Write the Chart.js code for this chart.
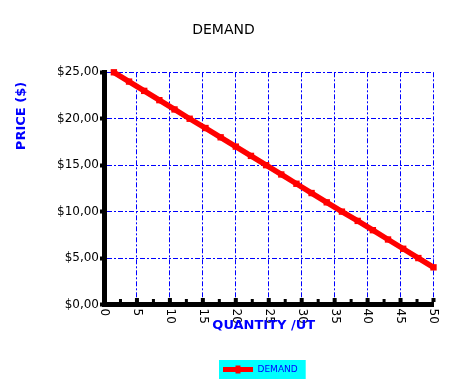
<!DOCTYPE html>
<html>
<head>
<meta charset="utf-8">
<script src="https://cdn.jsdelivr.net/npm/chart.js@4/dist/chart.umd.min.js"></script>
<style>
  html, body { margin: 0; padding: 0; background: #ffffff; }
  #wrap { width: 451px; height: 391px; }
</style>
</head>
<body>
<div id="wrap"><canvas id="c" width="451" height="391"></canvas></div>
<script>
// ---- data ----
const chartTitle = 'DEMAND';
const seriesLabel = 'DEMAND';
const xAxisTitle = 'QUANTITY /UT';
const yAxisTitle = 'PRICE ($)';
const quantity = [1.5, 3.8, 6.1, 8.4, 10.7, 13.0, 15.4, 17.7, 20.0, 22.3, 24.6, 26.9, 29.2, 31.5, 33.8, 36.1, 38.5, 40.8, 43.1, 45.4, 47.7, 50.0];
const price    = [25, 24, 23, 22, 21, 20, 19, 18, 17, 16, 15, 14, 13, 12, 11, 10, 9, 8, 7, 6, 5, 4];
const xTickValues = [0, 5, 10, 15, 20, 25, 30, 35, 40, 45, 50];
const xTickLabels = ['0', '5', '10', '15', '20', '25', '30', '35', '40', '45', '50'];
const xMinorTicks = [2.5, 7.5, 12.5, 17.5, 22.5, 27.5, 32.5, 37.5, 42.5, 47.5];
const yTickValues = [0, 5, 10, 15, 20, 25];
const yTickLabels = ['$0,00', '$5,00', '$10,00', '$15,00', '$20,00', '$25,00'];

// ---- styling ----
const FONT = "'DejaVu Sans', sans-serif";
const RED = '#ff0000';
const BLUE = '#0000ff';
const CYAN = '#00ffff';
const AXIS_W = 5;

const decor = {
  id: 'decor',
  afterUpdate(chart) {
    const tb = chart.titleBlock;
    if (tb) {
      const tdx = 223.5 - (tb.left + tb.right) / 2;
      tb.left += tdx; tb.right += tdx;
    }
    const lg = chart.legend;
    if (!lg || !lg.legendHitBoxes || !lg.legendHitBoxes.length) return;
    const hb = lg.legendHitBoxes[0];
    const dx = 223 - hb.left;
    const dy = 369.5 - (hb.top + hb.height / 2);
    lg.left += dx; lg.right += dx; lg.top += dy; lg.bottom += dy;
    lg.legendHitBoxes.forEach(h => { h.left += dx; h.top += dy; });
  },
  beforeDraw(chart) {
    const ctx = chart.ctx;
    const lg = chart.legend;
    if (!lg || !lg.legendHitBoxes.length) return;
    const hb = lg.legendHitBoxes[0];
    const cy = hb.top + hb.height / 2;
    ctx.save();
    ctx.fillStyle = CYAN;
    const l = hb.left - 4, r = hb.left + hb.width + 8;
    ctx.fillRect(l, cy - 9.5, r - l, 19);
    ctx.restore();
  },
  afterDraw(chart) {
    const ctx = chart.ctx;
    const xs = chart.scales.x, ys = chart.scales.y;
    const area = chart.chartArea;
    const y0 = ys.getPixelForValue(0);
    ctx.save();
    // tick squares above the x axis line
    ctx.fillStyle = '#000';
    xTickValues.forEach(v => {
      const px = xs.getPixelForValue(v);
      ctx.fillRect(px - 2, y0 - AXIS_W / 2 - 4, 4, 4);
    });
    xMinorTicks.forEach(v => {
      const px = xs.getPixelForValue(v);
      ctx.fillRect(px - 1.5, y0 - AXIS_W / 2 - 3, 3, 3);
    });
    // x tick labels, rotated clockwise
    ctx.font = '12px ' + FONT;
    ctx.fillStyle = '#000';
    ctx.textAlign = 'left';
    ctx.textBaseline = 'middle';
    xTickValues.forEach((v, i) => {
      const px = xs.getPixelForValue(v);
      ctx.save();
      ctx.translate(px, y0 + 4);
      ctx.rotate(Math.PI / 2);
      ctx.fillText(xTickLabels[i], 0, 0);
      ctx.restore();
    });
    // axis titles
    ctx.font = 'bold 13px ' + FONT;
    ctx.fillStyle = BLUE;
    ctx.textAlign = 'center';
    ctx.textBaseline = 'middle';
    ctx.fillText(xAxisTitle, (area.left + area.right) / 2 - 5, 326);
    ctx.save();
    ctx.translate(21.5, 116);
    ctx.rotate(-Math.PI / 2);
    ctx.fillText(yAxisTitle, 0, 0);
    ctx.restore();
    // legend marker
    const lg = chart.legend;
    if (lg && lg.legendHitBoxes.length) {
      const hb = lg.legendHitBoxes[0];
      const cy = hb.top + hb.height / 2;
      ctx.fillStyle = RED;
      ctx.fillRect(hb.left + 15 - 2.5, cy - 4, 5, 8);
    }
    ctx.restore();
  }
};

const defaultGen = Chart.defaults.plugins.legend.labels.generateLabels;

new Chart(document.getElementById('c'), {
  type: 'line',
  data: {
    datasets: [{
      label: seriesLabel,
      data: quantity.map((q, i) => ({ x: q, y: price[i] })),
      borderColor: RED,
      backgroundColor: RED,
      borderWidth: 5.5,
      pointStyle: 'rect',
      pointRadius: 4.5,
      pointBackgroundColor: RED,
      pointBorderColor: RED,
      pointBorderWidth: 0,
      tension: 0,
      fill: false,
      clip: false
    }]
  },
  options: {
    responsive: false,
    animation: false,
    devicePixelRatio: 1,
    layout: { padding: { left: 0, right: 17.5, top: 0, bottom: 0 } },
    plugins: {
      title: {
        display: true,
        text: chartTitle,
        color: '#000',
        font: { family: FONT, size: 14, weight: 'normal', lineHeight: 1.2 },
        padding: { top: 22, bottom: 33.5 }
      },
      legend: {
        display: true,
        position: 'bottom',
        labels: {
          color: BLUE,
          font: { family: FONT, size: 9 },
          boxWidth: 30,
          boxHeight: 5,
          padding: 10,
          generateLabels(chart) {
            return defaultGen(chart).map(it => Object.assign(it, { fillStyle: RED, strokeStyle: RED, lineWidth: 0 }));
          }
        }
      },
      tooltip: { enabled: false }
    },
    scales: {
      x: {
        type: 'linear',
        min: 0, max: 50,
        ticks: { display: false, stepSize: 5 },
        grid: { color: BLUE, lineWidth: 1, drawTicks: false, borderDash: [5, 2, 2, 2] },
        border: { display: true, color: '#000', width: AXIS_W, dash: [5, 2, 2, 2] },
        afterFit(scale) {
          const lgH = scale.chart.legend ? scale.chart.legend.height : 0;
          scale.height = 391 - 304.5 - lgH;
        }
      },
      y: {
        type: 'linear',
        min: 0, max: 25,
        ticks: {
          stepSize: 5,
          color: '#000',
          font: { family: FONT, size: 12 },
          padding: 1,
          callback(v) { const i = yTickValues.indexOf(v); return i >= 0 ? yTickLabels[i] : ''; }
        },
        grid: { color: BLUE, lineWidth: 1, drawTicks: true, tickLength: 4, tickColor: '#000', tickWidth: 4, tickBorderDash: [], borderDash: [5, 2, 2, 2] },
        border: { display: true, color: '#000', width: AXIS_W, dash: [5, 2, 2, 2] },
        afterFit(scale) { scale.width = 104; }
      }
    }
  },
  plugins: [decor]
});
</script>
</body>
</html>
